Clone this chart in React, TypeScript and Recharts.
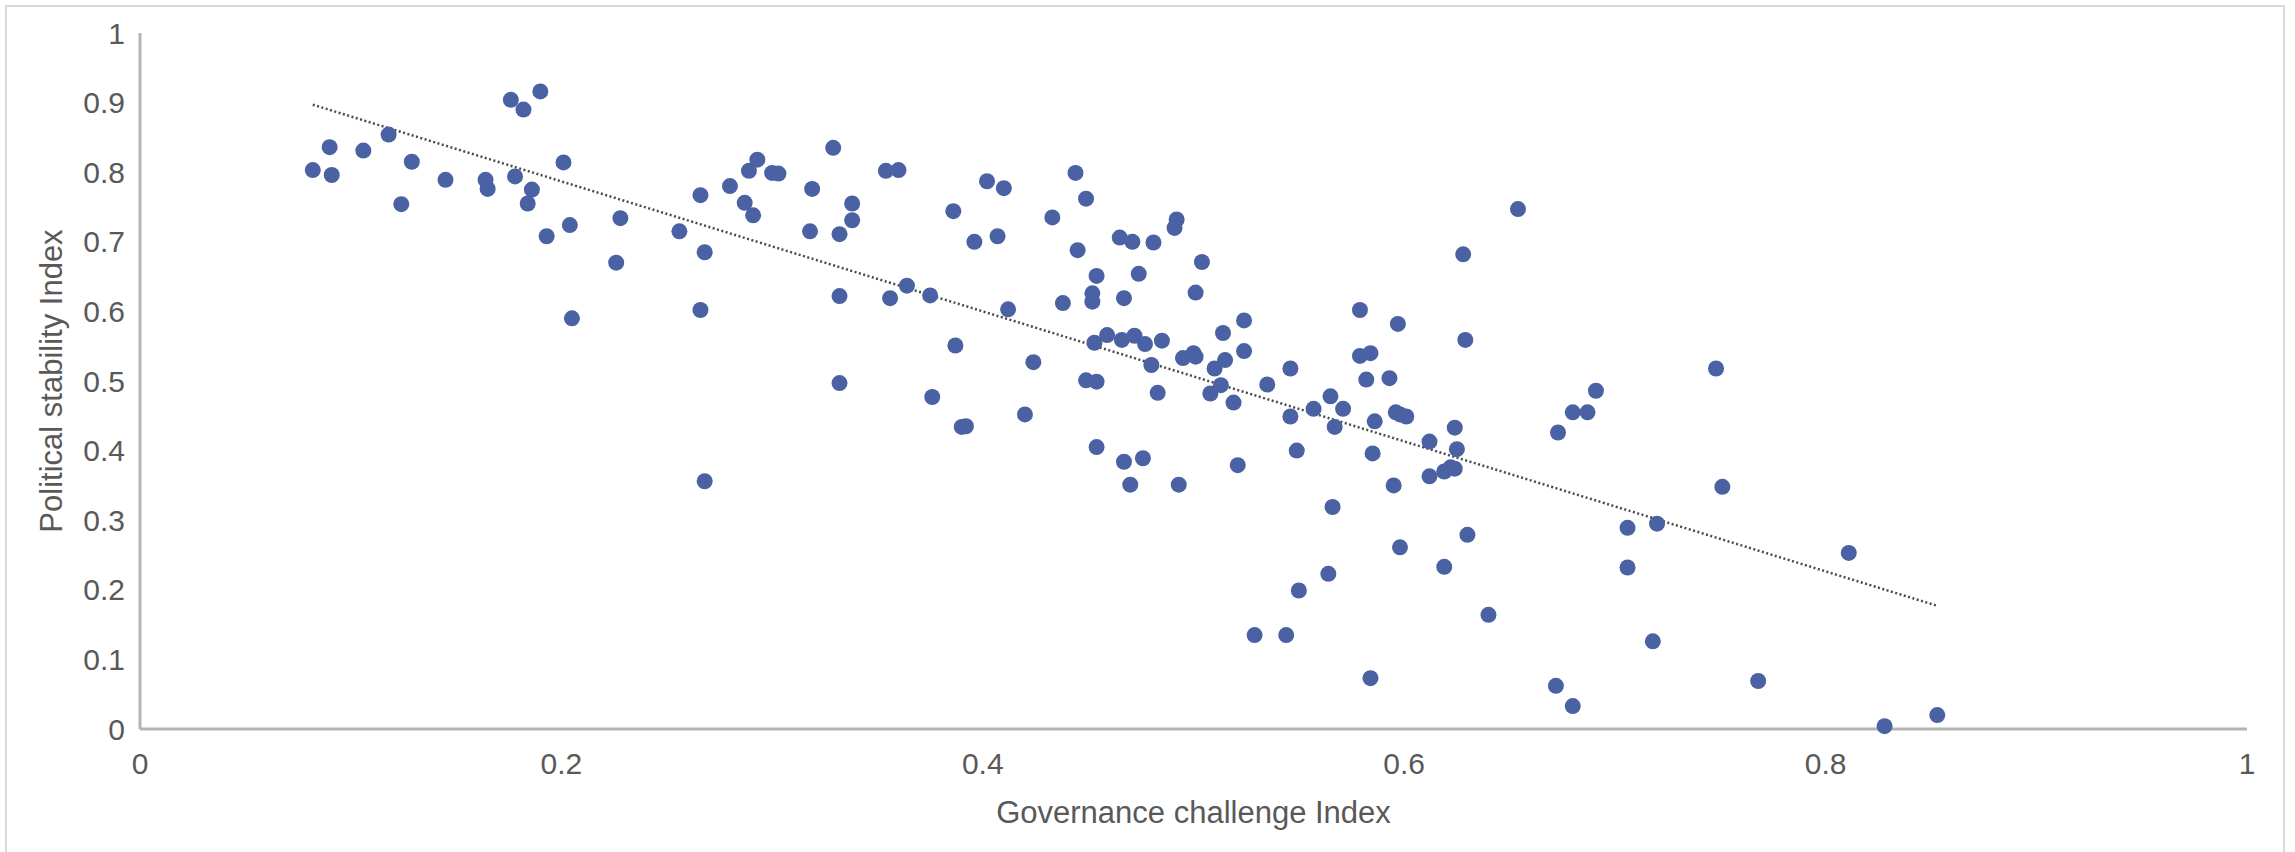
import { ScatterChart, Scatter, XAxis, YAxis, ReferenceLine } from 'recharts'

// Governance challenge index (x) and political stability index (y), one entry per country
const govIndex = [
  0.082, 0.09, 0.091, 0.106, 0.118, 0.124, 0.129, 0.145, 0.164, 0.165,
  0.176, 0.182, 0.19, 0.178, 0.186, 0.184, 0.193, 0.201, 0.204, 0.205,
  0.228, 0.226, 0.256, 0.266, 0.268, 0.266, 0.268, 0.28, 0.287, 0.291,
  0.289, 0.293, 0.3, 0.303,
  0.318, 0.319, 0.329, 0.332, 0.332, 0.332, 0.338, 0.338, 0.354, 0.36,
  0.356, 0.364, 0.375, 0.386, 0.396, 0.402, 0.41, 0.407, 0.412, 0.387,
  0.376, 0.39, 0.392, 0.424, 0.42, 0.433, 0.438,
  0.444, 0.449, 0.445, 0.452, 0.452, 0.454, 0.453, 0.459, 0.449, 0.454,
  0.454, 0.465, 0.471, 0.481, 0.474, 0.467, 0.466, 0.472, 0.477, 0.485,
  0.48, 0.483, 0.467, 0.476, 0.47, 0.491, 0.492, 0.504, 0.501, 0.495,
  0.5, 0.501, 0.493, 0.514, 0.524, 0.51, 0.515, 0.524, 0.508, 0.513,
  0.519, 0.521, 0.535, 0.529, 0.544, 0.546, 0.546, 0.557, 0.549, 0.55,
  0.564, 0.566, 0.565, 0.567, 0.571, 0.579, 0.579, 0.584, 0.582, 0.593,
  0.586, 0.585, 0.584, 0.597, 0.595, 0.598, 0.596, 0.598, 0.601, 0.612,
  0.612, 0.619, 0.619, 0.622, 0.624, 0.624, 0.625, 0.628, 0.629, 0.63,
  0.64,
  0.654, 0.748, 0.691, 0.68, 0.687, 0.673, 0.751, 0.706, 0.72, 0.706,
  0.811, 0.718, 0.672, 0.68, 0.768, 0.828, 0.853,
]

const stabilityIndex = [
  0.803, 0.836, 0.796, 0.831, 0.854, 0.754, 0.815, 0.789, 0.789, 0.776,
  0.904, 0.89, 0.916, 0.794, 0.775, 0.755, 0.708, 0.814, 0.724, 0.59,
  0.734, 0.67, 0.715, 0.767, 0.685, 0.602, 0.356, 0.78, 0.756, 0.738,
  0.802, 0.818, 0.799, 0.798,
  0.715, 0.776, 0.835, 0.711, 0.622, 0.497, 0.755, 0.731, 0.802, 0.803,
  0.619, 0.637, 0.623, 0.744, 0.7, 0.787, 0.777, 0.708, 0.603, 0.551,
  0.477, 0.434, 0.435, 0.527, 0.452, 0.735, 0.612,
  0.799, 0.762, 0.688, 0.626, 0.614, 0.651, 0.555, 0.566, 0.501, 0.499,
  0.405, 0.706, 0.7, 0.699, 0.654, 0.619, 0.559, 0.565, 0.553, 0.558,
  0.523, 0.483, 0.384, 0.389, 0.351, 0.72, 0.732, 0.671, 0.627, 0.533,
  0.54, 0.535, 0.351, 0.569, 0.587, 0.518, 0.53, 0.543, 0.482, 0.494,
  0.469, 0.379, 0.495, 0.135, 0.135, 0.518, 0.449, 0.46, 0.4, 0.199,
  0.223, 0.319, 0.478, 0.434, 0.46, 0.602, 0.536, 0.54, 0.502, 0.504,
  0.442, 0.396, 0.073, 0.582, 0.35, 0.261, 0.455, 0.452, 0.449, 0.413,
  0.363, 0.233, 0.37, 0.376, 0.374, 0.433, 0.402, 0.682, 0.559, 0.279,
  0.164,
  0.747, 0.518, 0.486, 0.455, 0.455, 0.426, 0.348, 0.289, 0.295, 0.232,
  0.253, 0.126, 0.062, 0.033, 0.069, 0.004, 0.02,
]

// linear trend line as drawn in the source (end points)
const trendX = [0.082, 0.853]
const trendY = [0.897, 0.177]

const xTicks = [0, 0.2, 0.4, 0.6, 0.8, 1]
const yTicks = [0, 0.1, 0.2, 0.3, 0.4, 0.5, 0.6, 0.7, 0.8, 0.9, 1]

const points = govIndex.map((x, i) => ({ x, y: stabilityIndex[i] }))
const trend = trendX.map((x, i) => ({ x, y: trendY[i] }))

const FONT = '"Liberation Sans", Arial, sans-serif'
const TEXT = '#595959'
const AXIS = '#b4b4b4'

const Dot = (props: any) => (
  <circle cx={props.cx} cy={props.cy} r={8} fill="#4a62a3" />
)

export default function App() {
  return (
    <div
      style={{
        position: 'absolute',
        left: 0,
        top: 0,
        width: 2295,
        height: 852,
        overflow: 'hidden',
        background: '#fff',
      }}
    >
      <div
        style={{
          position: 'absolute',
          left: 5,
          top: 5,
          width: 2276,
          height: 900,
          border: '2px solid #d9d9d9',
        }}
      />
      <div style={{ position: 'absolute', left: 0, top: 0 }}>
        <ScatterChart
          width={2295}
          height={852}
          margin={{ top: 33, right: 48, left: 0, bottom: 0 }}
        >
          <XAxis
            type="number"
            dataKey="x"
            domain={[0, 1]}
            ticks={xTicks}
            height={123}
            tickLine={false}
            tickMargin={18}
            axisLine={{ stroke: AXIS, strokeWidth: 3 }}
            tick={{ fontSize: 30, fill: TEXT, fontFamily: FONT }}
            label={{
              value: 'Governance challenge Index',
              position: 'insideBottom',
              offset: 29,
              style: { fontSize: 31, fill: TEXT, fontFamily: FONT },
            }}
          />
          <YAxis
            type="number"
            dataKey="y"
            domain={[0, 1]}
            ticks={yTicks}
            width={140}
            tickLine={false}
            tickMargin={9}
            axisLine={{ stroke: AXIS, strokeWidth: 3 }}
            tick={{ fontSize: 30, fill: TEXT, fontFamily: FONT }}
            label={{
              value: 'Political stability Index',
              angle: -90,
              position: 'insideLeft',
              offset: 51,
              style: {
                fontSize: 31,
                fill: TEXT,
                fontFamily: FONT,
                textAnchor: 'middle',
              },
            }}
          />
          <Scatter data={points} shape={Dot} isAnimationActive={false} />
          <ReferenceLine
            segment={[trend[0], trend[1]]}
            stroke="#4a4a4a"
            strokeWidth={2.5}
            strokeDasharray="2 2.5"
            ifOverflow="visible"
          />
        </ScatterChart>
      </div>
    </div>
  )
}
